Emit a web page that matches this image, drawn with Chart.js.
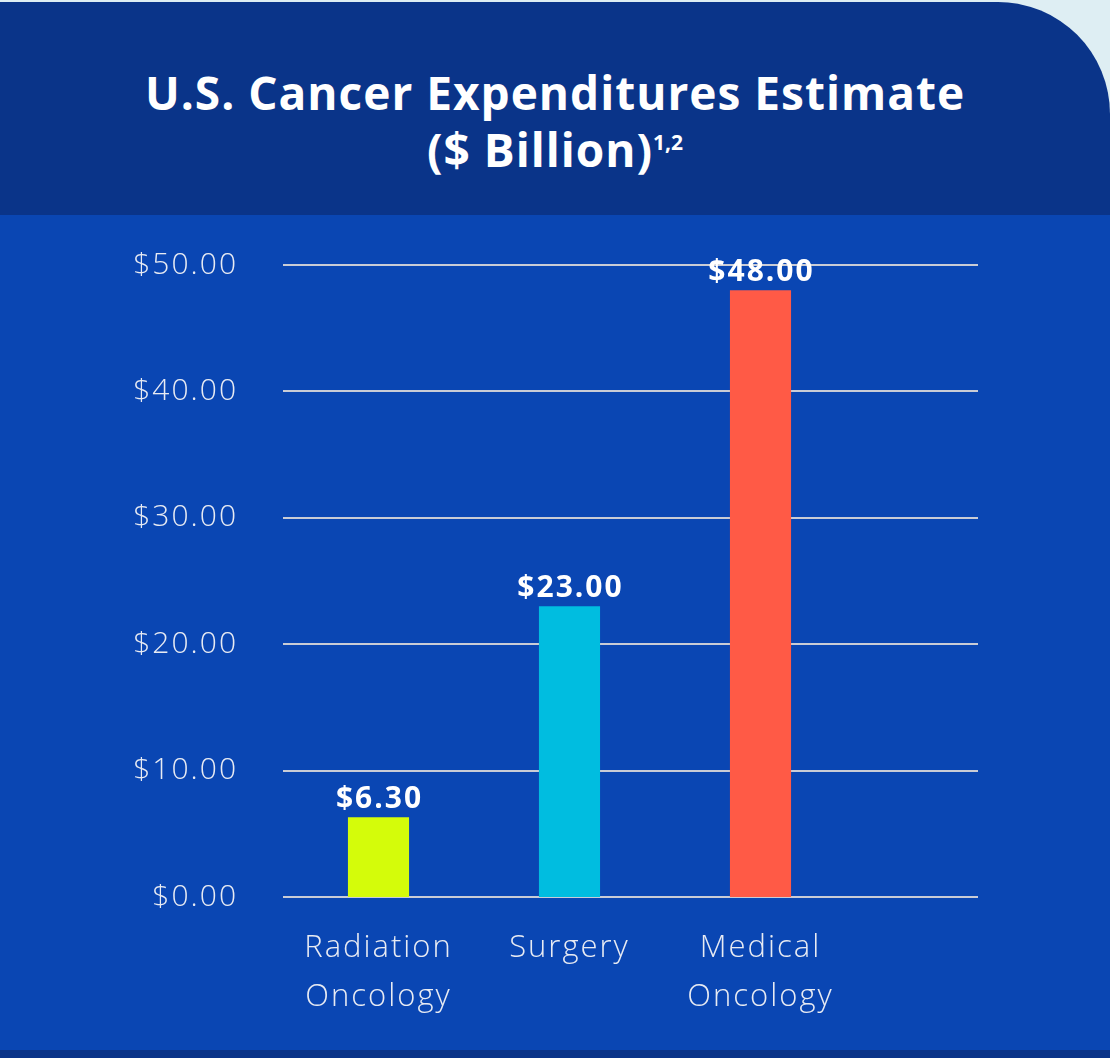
<!DOCTYPE html>
<html>
<head>
<meta charset="utf-8">
<script src="https://cdn.jsdelivr.net/npm/chart.js@4"></script>
<style>
  html, body { margin: 0; padding: 0; background: #deeef3; }
  #wrap { position: relative; width: 1110px; height: 1058px; overflow: hidden; }
  #header {
    position: absolute; left: 0; top: 2px; width: 1110px; height: 213px;
    background: #0a3489; border-top-right-radius: 112px;
    color: #fff; font-family: "Open Sans", sans-serif; font-weight: 700;
    text-align: center; font-size: 46px; line-height: 57px; letter-spacing: 1px;
  }
  #header .t { padding-top: 62px; }
  #header sup { font-size: 21px; vertical-align: 17px; line-height: 0; letter-spacing: 0; }
  #body {
    position: absolute; left: 0; top: 215px; width: 1110px; height: 835px;
    background: #0a46b3;
  }
  #stripe {
    position: absolute; left: 0; top: 1050px; width: 1110px; height: 8px;
    background: #0a3489;
  }
  #chart-box { position: absolute; left: 0; top: 0; width: 1110px; height: 835px; }
</style>
</head>
<body>
<div id="wrap">
  <div id="header"><div class="t">U.S. Cancer Expenditures Estimate<br>($ Billion)<sup>1,2</sup></div></div>
  <div id="body">
    <div id="chart-box"><canvas id="cost-chart" width="1110" height="835"></canvas></div>
  </div>
  <div id="stripe"></div>
</div>
<script>
const canvasElement = document.getElementById("cost-chart");

const categories = [["Radiation", "Oncology"], ["Surgery"], ["Medical", "Oncology"]];
const spending = [6.3, 23.0, 48.0];
const barColors = ["#d4fc0a", "#00bde0", "#ff5a46"];
const tickValues = [0, 10, 20, 30, 40, 50];

const gridColor = "#c9ccd6";
const tickColor = "#e8ebf3";

const money = (v) => `$${Number(v).toFixed(2)}`;

// wider letters, closer to the original typeface
const spacing = {
  id: "spacing",
  beforeDraw(chart) {
    chart.ctx.letterSpacing = "2px";
  },
  afterDraw(chart) {
    chart.ctx.letterSpacing = "0px";
  },
};

// grid lines run past the plot on the right side
const wideGrid = {
  id: "wideGrid",
  beforeDatasetsDraw(chart) {
    const { ctx, chartArea, scales } = chart;
    ctx.save();
    ctx.strokeStyle = gridColor;
    ctx.lineWidth = 2;
    tickValues.forEach((v) => {
      const y = Math.round(scales.y.getPixelForValue(v));
      ctx.beginPath();
      ctx.moveTo(chartArea.left, y);
      ctx.lineTo(978, y);
      ctx.stroke();
    });
    ctx.restore();
  },
};

const valueLabels = {
  id: "valueLabels",
  afterDatasetsDraw(chart) {
    const { ctx } = chart;
    const meta = chart.getDatasetMeta(0);
    ctx.save();
    ctx.fillStyle = "#ffffff";
    ctx.font = "700 30px 'Open Sans', sans-serif";
    ctx.textAlign = "center";
    ctx.textBaseline = "alphabetic";
    meta.data.forEach((bar, i) => {
      ctx.fillText(money(spending[i]), bar.x + 1, bar.y - 9);
    });
    ctx.restore();
  },
};

const config = {
  type: "bar",
  data: {
    labels: categories,
    datasets: [
      {
        label: "Expenditure",
        data: spending,
        backgroundColor: barColors,
        borderWidth: 0,
        barPercentage: 0.32,
        categoryPercentage: 1,
      },
    ],
  },
  options: {
    responsive: false,
    animation: false,
    layout: {
      padding: { top: 50, right: 254, bottom: 0, left: 0 },
    },
    plugins: {
      legend: { display: false },
      tooltip: { enabled: false },
    },
    scales: {
      x: {
        border: { display: false },
        grid: { display: false, drawTicks: false },
        ticks: {
          color: tickColor,
          padding: 26,
          font: { family: "'Open Sans', sans-serif", size: 31, weight: 300, lineHeight: 1.6 },
        },
        afterFit: (scale) => {
          scale.height = 153;
        },
      },
      y: {
        min: 0,
        max: 50,
        border: { display: false },
        grid: { display: false, drawTicks: false },
        ticks: {
          stepSize: 10,
          color: tickColor,
          padding: 45,
          callback: (v) => money(v),
          font: { family: "'Open Sans', sans-serif", size: 30, weight: 300 },
        },
        afterFit: (scale) => {
          scale.width = 283;
          scale.paddingTop = 0;
          scale.paddingBottom = 0;
        },
      },
    },
  },
  plugins: [spacing, wideGrid, valueLabels],
};

const costChart = new Chart(canvasElement, config);
</script>
</body>
</html>
